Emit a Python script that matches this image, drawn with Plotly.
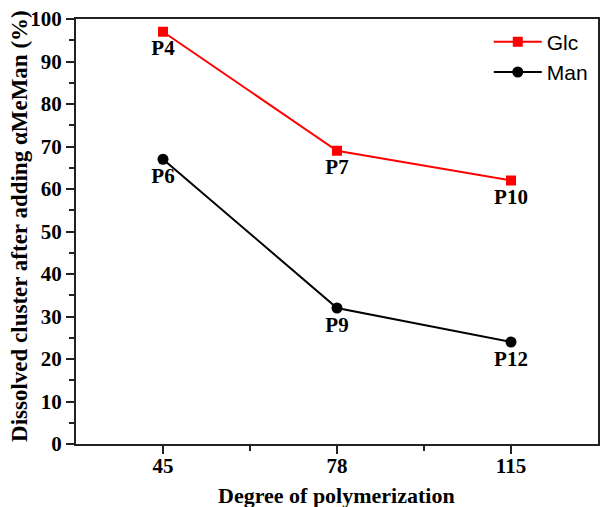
import plotly.graph_objects as go

dp_labels = ["45", "78", "115"]
x_idx = [0, 1, 2]
glc = [97, 69, 62]
man = [67, 32, 24]
glc_text = ["P4", "P7", "P10"]
man_text = ["P6", "P9", "P12"]
x_title = "Degree of polymerization"
y_title = "Dissolved cluster after adding \u03b1MeMan (%)"

serif = "Liberation Serif"

fig = go.Figure()
fig.add_trace(go.Scatter(
    x=x_idx, y=glc, name="Glc", mode="lines+markers+text",
    text=["<b>%s</b>" % t for t in glc_text], textposition="bottom center",
    textfont=dict(family=serif, size=21, color="black"),
    line=dict(color="#ff0000", width=2),
    marker=dict(symbol="square", size=10, color="#ff0000"),
))
fig.add_trace(go.Scatter(
    x=x_idx, y=man, name="Man", mode="lines+markers+text",
    text=["<b>%s</b>" % t for t in man_text], textposition="bottom center",
    textfont=dict(family=serif, size=21, color="black"),
    line=dict(color="black", width=2),
    marker=dict(symbol="circle", size=11, color="black"),
))

fig.update_layout(
    width=600, height=507,
    margin=dict(l=76, r=2, t=19, b=63),
    plot_bgcolor="white", paper_bgcolor="white",
    showlegend=True,
    legend=dict(x=0.99, y=0.994, xanchor="right", yanchor="top",
                font=dict(family="Liberation Sans", size=21, color="black"),
                bgcolor="rgba(0,0,0,0)", tracegroupgap=0, itemwidth=48),
    xaxis=dict(
        range=[-0.5, 2.5], tickmode="array", tickvals=x_idx,
        ticktext=["<b>%s</b>" % t for t in dp_labels],
        ticks="outside", ticklen=8, tickwidth=2, tickcolor="#222",
        ticklabelstandoff=-6, automargin=False,
        showline=True, linecolor="#222", linewidth=2, mirror=True,
        showgrid=False, zeroline=False,
        tickfont=dict(family=serif, size=21, color="black"),
        minor=dict(tickmode="array", tickvals=[0.5, 1.5], ticks="outside",
                   ticklen=5, tickwidth=2, tickcolor="#222", showgrid=False),
    ),
    yaxis=dict(
        range=[0, 100], tickmode="array", tickvals=list(range(0, 101, 10)),
        ticktext=["<b>%d</b>" % v for v in range(0, 101, 10)],
        ticks="outside", ticklen=8, tickwidth=2, tickcolor="#222",
        automargin=False,
        showline=True, linecolor="#222", linewidth=2, mirror=True,
        showgrid=False, zeroline=False,
        tickfont=dict(family=serif, size=21, color="black"),
        minor=dict(tickmode="array", tickvals=list(range(5, 100, 10)), ticks="outside",
                   ticklen=5, tickwidth=2, tickcolor="#222", showgrid=False),
    ),
    annotations=[
        dict(text="<b>%s</b>" % x_title, xref="paper", yref="paper",
             x=0.499, y=-0.12, xanchor="center", yanchor="middle", showarrow=False,
             font=dict(family=serif, size=22, color="black")),
        dict(text="<b>%s</b>" % y_title, xref="paper", yref="paper",
             x=-0.1073, y=0.513, xanchor="center", yanchor="middle", showarrow=False,
             textangle=-90, font=dict(family=serif, size=23, color="black")),
    ],
)

fig.write_html("out.html", config={"displayModeBar": False},
               post_script="document.body.style.margin='0';document.body.style.overflow='hidden';")
